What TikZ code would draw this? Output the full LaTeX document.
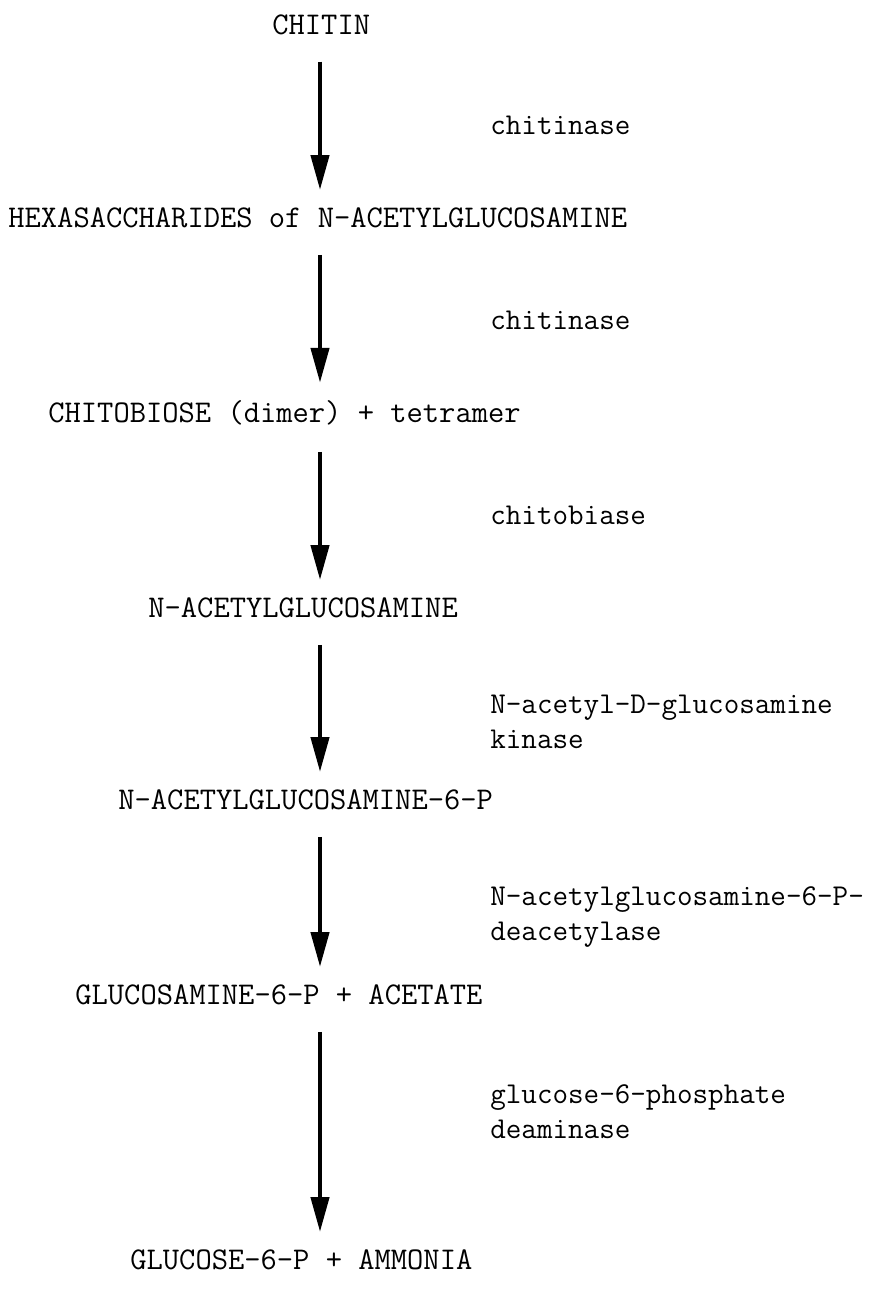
\documentclass[tikz,border=0pt]{standalone}
\usepackage{fontspec}
\usetikzlibrary{arrows.meta}
\begin{document}
\begin{tikzpicture}[x=0.02cm, y=-0.02cm, >={Triangle[length=0.7cm, width=0.36cm]}]
				\tikzset{
					compound/.style={anchor=west, inner sep=0pt, font=\ttfamily\fontsize{18}{20}\selectfont},
					enzyme/.style={anchor=west, inner sep=0pt, align=left, font=\ttfamily\fontsize{17.2}{20}\selectfont},
					reaction/.style={->, line width=2.5pt, shorten <=15pt, shorten >=10pt}
				}
				\useasboundingbox (0,0) rectangle (873,1301);
				\coordinate (axis) at (320,0);
				\node[compound] (chitin) at (272,25) {CHITIN};
				\node[compound] (hexa) at (8,218) {HEXASACCHARIDES of N-ACETYLGLUCOSAMINE};
				\node[compound] (chitobiose) at (48,413) {CHITOBIOSE (dimer) + tetramer};
				\node[compound] (nag) at (148,608) {N-ACETYLGLUCOSAMINE};
				\node[compound] (nagp) at (118,800) {N-ACETYLGLUCOSAMINE-6-P};
				\node[compound] (gnp) at (75,995) {GLUCOSAMINE-6-P + ACETATE};
				\node[compound] (g6p) at (130,1260) {GLUCOSE-6-P + AMMONIA};
				\node[enzyme] (e1) at (490,125) {chitinase};
				\node[enzyme] (e2) at (490,320) {chitinase};
				\node[enzyme] (e3) at (490,515) {chitobiase};
				\node[enzyme] (e4) at (490,722) {N-acetyl-D-glucosamine\\kinase};
				\node[enzyme] (e5) at (490,917) {N-acetylglucosamine-6-P-\\deacetylase};
				\node[enzyme] (e6) at (490,1112) {glucose-6-phosphate\\deaminase};
				\draw[reaction] (chitin.south -| axis) -- (hexa.north -| axis);
				\draw[reaction] (hexa.south -| axis) -- (chitobiose.north -| axis);
				\draw[reaction] (chitobiose.south -| axis) -- (nag.north -| axis);
				\draw[reaction] (nag.south -| axis) -- (nagp.north -| axis);
				\draw[reaction] (nagp.south -| axis) -- (gnp.north -| axis);
				\draw[reaction] (gnp.south -| axis) -- (g6p.north -| axis);
			\end{tikzpicture}
\end{document}
